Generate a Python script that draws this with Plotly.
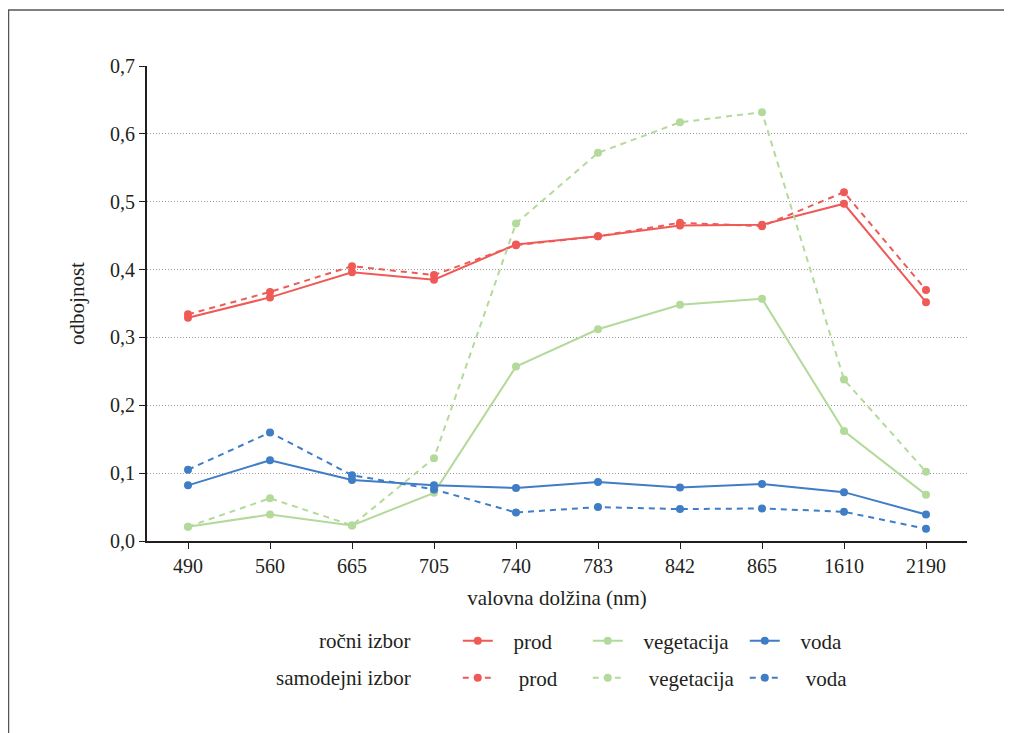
import plotly.graph_objects as go

wavelengths = ["490", "560", "665", "705", "740", "783", "842", "865", "1610", "2190"]

prod_rocni = [0.329, 0.359, 0.396, 0.385, 0.437, 0.449, 0.465, 0.466, 0.497, 0.352]
prod_samodejni = [0.334, 0.367, 0.405, 0.392, 0.436, 0.449, 0.469, 0.464, 0.514, 0.370]
veg_rocni = [0.021, 0.039, 0.023, 0.071, 0.257, 0.312, 0.348, 0.357, 0.162, 0.068]
veg_samodejni = [0.021, 0.063, 0.023, 0.122, 0.468, 0.572, 0.617, 0.632, 0.238, 0.102]
voda_rocni = [0.082, 0.119, 0.090, 0.082, 0.078, 0.087, 0.079, 0.084, 0.072, 0.039]
voda_samodejni = [0.105, 0.160, 0.097, 0.076, 0.042, 0.050, 0.047, 0.048, 0.043, 0.018]

y_ticks = [0.0, 0.1, 0.2, 0.3, 0.4, 0.5, 0.6, 0.7]
y_ticklabels = ["0,0", "0,1", "0,2", "0,3", "0,4", "0,5", "0,6", "0,7"]

RED = "#EF5A56"
GREEN = "#B3DA9A"
BLUE = "#3F7DC6"
FONT = "Liberation Serif, DejaVu Serif, Times New Roman, serif"
NB = "\u00a0"
FS_TICK = 20
FS_TEXT = 21

fig = go.Figure()

series = [
    ("prod", prod_rocni, RED, "solid", "legend", 85),
    ("vegetacija", veg_rocni, GREEN, "solid", "legend", 112),
    ("voda", voda_rocni, BLUE, "solid", "legend", 80),
    ("prod", prod_samodejni, RED, "dash", "legend2", 85),
    ("vegetacija", veg_samodejni, GREEN, "dash", "legend2", 112),
    ("voda", voda_samodejni, BLUE, "dash", "legend2", 80),
]

for name, vals, color, dash, leg, lw in series:
    pad = NB * 3 if dash == "solid" else NB * 4
    fig.add_trace(go.Scatter(
        x=wavelengths, y=vals, mode="lines+markers",
        name=pad + name,
        line=dict(color=color, width=2, dash=dash if dash == "solid" else "6px,5px"),
        marker=dict(color=color, size=8),
        legend=leg, legendwidth=lw,
    ))

fig.update_layout(
    width=1004, height=725,
    margin=dict(l=139, r=45, t=58, b=192),
    paper_bgcolor="white", plot_bgcolor="white",
    font=dict(family=FONT, size=FS_TEXT, color="#231f20"),
    xaxis=dict(
        type="category", range=[-0.5, 9.5],
        showline=True, linecolor="#231f20", linewidth=2,
        ticks="outside", ticklen=6, tickcolor="#231f20", tickwidth=1,
        showgrid=False, zeroline=False,
        title=dict(text="valovna dolžina (nm)", standoff=14, font=dict(size=FS_TEXT)),
        tickfont=dict(size=FS_TICK),
    ),
    yaxis=dict(
        range=[0, 0.7], tickvals=y_ticks, ticktext=y_ticklabels,
        showline=True, linecolor="#231f20", linewidth=2,
        ticks="outside", ticklen=6, tickcolor="#231f20", tickwidth=1,
        showgrid=True, gridcolor="#9a9a9a", griddash="1px,2px", gridwidth=1,
        zeroline=False,
        title=dict(text="odbojnost", standoff=20, font=dict(size=FS_TEXT)),
        tickfont=dict(size=FS_TICK),
    ),
    legend=dict(orientation="h", x=0.379, xanchor="left", y=-0.2105, yanchor="middle",
                font=dict(size=FS_TEXT), bgcolor="rgba(0,0,0,0)", itemclick=False,
                traceorder="normal"),
    legend2=dict(orientation="h", x=0.379, xanchor="left", y=-0.2884, yanchor="middle",
                 font=dict(size=FS_TEXT), bgcolor="rgba(0,0,0,0)", itemclick=False,
                 traceorder="normal"),
    showlegend=True,
)

fig.add_annotation(text="ročni izbor", xref="paper", yref="paper", x=0.3244, y=-0.2105,
                   xanchor="right", yanchor="middle", showarrow=False, font=dict(size=FS_TEXT))
fig.add_annotation(text="samodejni izbor", xref="paper", yref="paper", x=0.3244, y=-0.2884,
                   xanchor="right", yanchor="middle", showarrow=False, font=dict(size=FS_TEXT))

fig.add_shape(type="rect", xref="paper", yref="paper",
              x0=-0.1689, x1=1.07, y0=-0.45, y1=1.1179,
              line=dict(color="#555555", width=1.5), fillcolor="rgba(0,0,0,0)", layer="below")

fig.write_html("out.html")
